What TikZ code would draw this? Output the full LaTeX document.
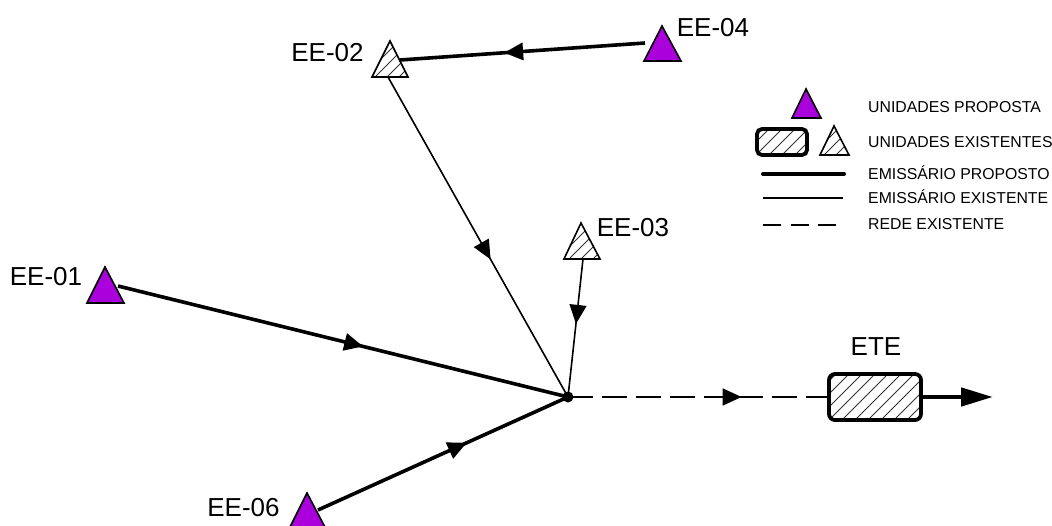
\documentclass[tikz,border=0pt]{standalone}
\usepackage{fontspec}
\setmainfont{Liberation Sans}
\usetikzlibrary{decorations.markings,arrows.meta}
\definecolor{prop}{RGB}{170,0,220}
\tikzset{
  x=1pt,y=-1pt,
  lbl/.style={inner sep=0pt,font=\fontsize{26}{28}\selectfont},
  leg/.style={inner sep=0pt,anchor=west,font=\fontsize{15.8}{18}\selectfont},
  hatchline/.style={line width=0.9pt,black!80},
  tri/.style={line width=1.6pt,line join=miter},
  triprop/.style={tri,fill=prop},
  trihatch/.style={tri},
  thickline/.style={line width=3.6pt},
  thinline/.style={line width=1.6pt},
  dashline/.style={line width=1.8pt,dash pattern=on 25pt off 9pt},
  tank/.style={line width=3.8pt,rounded corners=6pt},
  head/.style={postaction={decorate,decoration={markings,mark=at position #1 with {\arrow{Triangle[length=19pt,width=17pt]}}}}},
}
% hatch lines rising to the right, spaced #1 horizontally, inside the current clip
\newcommand{\hatchfill}[4]{%
  \foreach \k in {#1,#2,...,#3} {\draw[hatchline] (\k,#4) -- ++(100,-100);}%
}
\begin{document}
\begin{tikzpicture}
\useasboundingbox (0,0) rectangle (1052,526);
% anchors
\coordinate (ee1) at (118,286);
\coordinate (ee2a) at (400,60);
\coordinate (ee2b) at (388,77);
\coordinate (ee3) at (583,259);
\coordinate (ee4) at (645,43);
\coordinate (ee6) at (318,510);
\coordinate (hub) at (568,397);
\coordinate (out) at (993,397);
% triangles
\begin{scope}
\clip (0,0) rectangle (1052,526);
\draw[triprop] (105,267) -- (124,303) -- (87,303) -- cycle;
\draw[triprop] (662,26) -- (681,61) -- (644,61) -- cycle;
\draw[triprop] (307,493) -- (326,529) -- (289,529) -- cycle;
\end{scope}
\begin{scope}
\clip (390,41) -- (408,77) -- (372,77) -- cycle;
\hatchfill{340}{352}{420}{100}
\end{scope}
\draw[trihatch] (390,41) -- (408,77) -- (372,77) -- cycle;
\begin{scope}
\clip (581,223) -- (600,259) -- (564,259) -- cycle;
\hatchfill{522}{534}{600}{282}
\end{scope}
\draw[trihatch] (581,223) -- (600,259) -- (564,259) -- cycle;
% ETE
\begin{scope}
\clip[rounded corners=6pt] (829,374) rectangle (921,420);
\hatchfill{780}{793}{930}{430}
\end{scope}
\draw[tank] (829,374) rectangle (921,420);
\node[lbl] (ete) at (876,347) {ETE};
\coordinate (eteL) at (829,397);
\coordinate (eteR) at (921,397);
% connectors
\draw[thickline,head=0.575] (ee4) -- (ee2a);
\draw[thinline,head=0.57] (ee2b) -- (hub);
\draw[thinline,head=0.47] (ee3) -- (hub);
\draw[thickline,head=0.545] (ee1) -- (hub);
\draw[thickline,head=0.595] (ee6) -- (hub);
\draw[dashline,head=0.665] (hub) -- (eteL);
\draw[line width=4.6pt,-{Triangle[length=32pt,width=18pt]}] (eteR) -- (out);
\fill (hub) circle (5.5pt);
% labels
\node[lbl] (l1) at (46,277) {EE-01};
\node[lbl] (l2) at (327.5,53) {EE-02};
\node[lbl] (l3) at (633,228) {EE-03};
\node[lbl] (l4) at (713,28) {EE-04};
\node[lbl] (l6) at (243.5,508) {EE-06};
% legend
\draw[triprop] (806,89) -- (821,118) -- (792,118) -- cycle;
\begin{scope}
\clip[rounded corners=5pt] (757,129) rectangle (807,155);
\hatchfill{720}{733}{810}{165}
\end{scope}
\draw[tank,rounded corners=5pt] (757,129) rectangle (807,155);
\begin{scope}
\clip (834,126) -- (849,155) -- (820,155) -- cycle;
\hatchfill{780}{792}{850}{175}
\end{scope}
\draw[trihatch] (834,126) -- (849,155) -- (820,155) -- cycle;
\coordinate (a1) at (763,174); \coordinate (a2) at (844,174);
\coordinate (b1) at (763,198); \coordinate (b2) at (843,198);
\coordinate (c1) at (763,225); \coordinate (c2) at (843,225);
\draw[line width=4pt,line cap=round] (a1) -- (a2);
\draw[thinline] (b1) -- (b2);
\draw[line width=1.8pt,dash pattern=on 18pt off 10pt on 18pt off 9pt on 18pt off 10pt] (c1) -- (c2);
\node[leg] (t1) at (868,107) {UNIDADES PROPOSTA};
\node[leg] (t2) at (868,142) {UNIDADES EXISTENTES};
\node[leg] (t3) at (868,173) {EMISSÁRIO PROPOSTO};
\node[leg] (t4) at (868,197) {EMISSÁRIO EXISTENTE};
\node[leg] (t5) at (868,224) {REDE EXISTENTE};
\end{tikzpicture}
\end{document}
